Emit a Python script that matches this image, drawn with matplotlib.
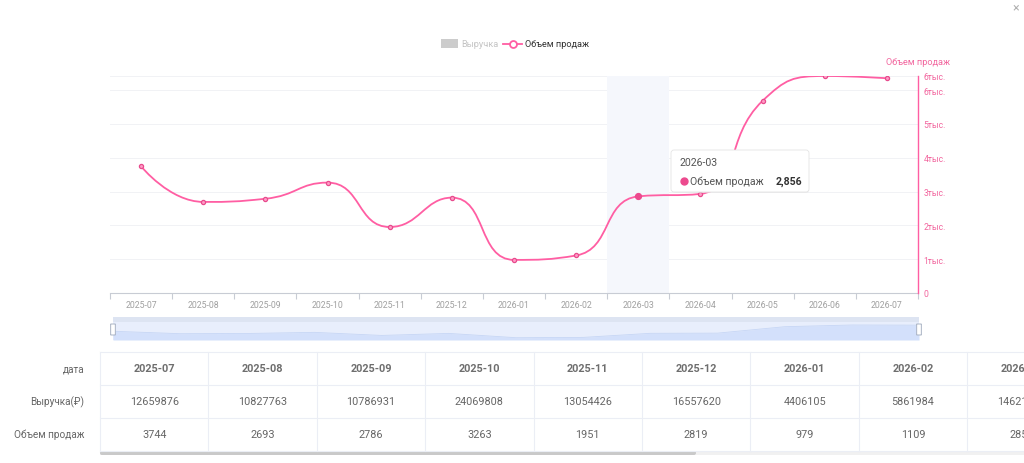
import matplotlib
matplotlib.use('Agg')
import matplotlib.pyplot as plt
from matplotlib.path import Path
from matplotlib.patches import PathPatch, Rectangle, FancyBboxPatch
import numpy as np

plt.rcParams['font.family'] = ['Roboto', 'DejaVu Sans']

# data
months = ['2025-07', '2025-08', '2025-09', '2025-10', '2025-11', '2025-12', '2026-01',
          '2026-02', '2026-03', '2026-04', '2026-05', '2026-06', '2026-07']
volume = [3744, 2693, 2786, 3263, 1951, 2819, 979, 1109, 2856, 2931, 5682, 6415, 6347]
revenue = [12659876, 10827763, 10786931, 24069808, 13054426, 16557620, 4406105, 5861984, 14621530]
y_ticks = [0, 1000, 2000, 3000, 4000, 5000, 6000]
hover_idx = 8

PINK = '#ff5ea3'
PINK_TXT = '#f2679f'
GRAY_TXT = '#a0a0a0'
TBL_TXT = '#666666'
W, H = 1024, 464


def px_rect(x0, y0, x1, y1):
    return [x0 / W, 1 - y1 / H, (x1 - x0) / W, (y1 - y0) / H]


def smooth_path(xs, ys, smooth=0.5):
    # echarts style bezier smoothing with clamped control points
    verts = [(xs[0], ys[0])]
    codes = [Path.MOVETO]
    cp0 = (xs[0], ys[0])
    n = len(xs)
    for i in range(1, n):
        x, y = xs[i], ys[i]
        px, py = xs[i - 1], ys[i - 1]
        if i == n - 1:
            cp1 = (x, y)
            nxt = (x, y)
        else:
            nx, ny = xs[i + 1], ys[i + 1]
            vx, vy = nx - px, ny - py
            lp = np.hypot(x - px, y - py)
            ln = np.hypot(nx - x, ny - y)
            r = ln / (ln + lp)
            ncx = x + vx * smooth * r
            ncy = y + vy * smooth * r
            ncx = max(min(ncx, max(nx, x)), min(nx, x))
            ncy = max(min(ncy, max(ny, y)), min(ny, y))
            vx, vy = ncx - x, ncy - y
            c1x = x - vx * lp / ln
            c1y = y - vy * lp / ln
            c1x = max(min(c1x, max(px, x)), min(px, x))
            c1y = max(min(c1y, max(py, y)), min(py, y))
            vx, vy = x - c1x, y - c1y
            nxt = (x + vx * ln / lp, y + vy * ln / lp)
            cp1 = (c1x, c1y)
        verts += [cp0, cp1, (x, y)]
        codes += [Path.CURVE4] * 3
        cp0 = nxt
    return verts, codes


fig = plt.figure(figsize=(10.24, 4.64), dpi=100)
fig.patch.set_facecolor('white')

# ---- main line chart
ax = fig.add_axes(px_rect(110, 77, 918, 294))
n = len(months)
ymax = max(volume)
ax.set_xlim(-0.5, n - 0.5)
ax.set_ylim(0, ymax)
for s in ['top', 'left', 'right']:
    ax.spines[s].set_visible(False)
ax.spines['bottom'].set_color('#c8ccd4')
ax.set_xticks(np.arange(n + 1) - 0.5, minor=False)
ax.set_xticklabels([])
ax.tick_params(axis='x', length=4, color='#c8ccd4', width=0.8)
ax.set_yticks([])
for i, m in enumerate(months):
    ax.text(i, -0.03, m, transform=ax.get_xaxis_transform(), ha='center', va='top',
            fontsize=6.3, color=GRAY_TXT)
for t in y_ticks[1:] + [ymax]:
    ax.axhline(t, color='#f1f2f5', lw=0.7, zorder=0)

# hover shadow band
ax.axvspan(hover_idx - 0.5, hover_idx + 0.5, color='#f5f7fc', zorder=0, lw=0)

# right y axis
ax2 = ax.twinx()
ax2.set_ylim(0, ymax)
for s in ['top', 'left', 'bottom']:
    ax2.spines[s].set_visible(False)
ax2.spines['right'].set_color(PINK)
ax2.spines['right'].set_linewidth(1.0)
ax2.set_yticks(y_ticks + [ymax])
ax2.set_yticklabels(['0' if t == 0 else '%dтыс.' % int(t / 1000) for t in y_ticks + [ymax]])
ax2.tick_params(axis='y', length=0, pad=4, labelsize=6.2, labelcolor=PINK_TXT)
ax2.text(1.0, ymax + 420, 'Объем продаж', transform=ax2.get_yaxis_transform(),
         ha='center', va='center', fontsize=6.6, color=PINK_TXT)
ax2.set_yticks([], minor=True)

# smooth line in pixel-like space
sx = 62.15
sy = 217.0 / ymax
xs = [i * sx for i in range(n)]
ys = [v * sy for v in volume]
verts, codes = smooth_path(xs, ys)
verts = [(a / sx, b / sy) for a, b in verts]
ax.add_patch(PathPatch(Path(verts, codes), fill=False, edgecolor=PINK, lw=1.3, zorder=3))
ax.plot(range(n), volume, 'o', ms=3.0, mfc='#ff9cc6', mec='#e84b8d', mew=0.9, zorder=4)
ax.plot([hover_idx], [volume[hover_idx]], 'o', ms=4.2, mfc='#ec4a8e', mec='#ec4a8e', zorder=5)

# ---- datazoom slider
sl = fig.add_axes(px_rect(113, 318, 919, 341))
sl.set_xlim(0, n - 1)
sl.set_ylim(0, 23)
sl.axis('off')
sl.add_patch(Rectangle((0, 0), n - 1, 23, color='#e8eefc', lw=0))
sl.add_patch(Rectangle((0, 18), n - 1, 5, color='#dde4f2', lw=0))
shadow = [v / ymax * 15 for v in volume]
sl.fill_between(range(n), 0, shadow, color='#d3e0fb', lw=0)
sl.plot(range(n), shadow, color='#c6d6f5', lw=0.6)
for hx in [0, n - 1]:
    sl.add_patch(FancyBboxPatch((hx - 0.035, 5), 0.07, 11, boxstyle='round,pad=0,rounding_size=0.03',
                                fc='white', ec='#a9b3c4', lw=0.7, clip_on=False, zorder=5))

# ---- overlay for legend, tooltip and table
ov = fig.add_axes([0, 0, 1, 1])
ov.set_xlim(0, W)
ov.set_ylim(H, 0)
ov.axis('off')
ov.patch.set_alpha(0)

# close icon
ov.text(1016, 8, '×', ha='center', va='center', fontsize=9, color='#b0b0b0')

# legend
ov.add_patch(Rectangle((441, 40), 17, 9, fc='#cccccc', lw=0))
ov.text(461, 44.5, 'Выручка', ha='left', va='center', fontsize=6.6, color='#c4c4c4')
ov.plot([503, 522], [44.5, 44.5], color=PINK, lw=1.3)
ov.plot([512.5], [44.5], 'o', ms=5, mfc='white', mec=PINK, mew=1.3)
ov.text(525, 44.5, 'Объем продаж', ha='left', va='center', fontsize=6.6, color='#333333')

# tooltip
ov.add_patch(FancyBboxPatch((673, 153), 136, 41, boxstyle='round,pad=0,rounding_size=3',
                            fc='#e8e8e8', ec='none', alpha=0.5, zorder=9))
ov.add_patch(FancyBboxPatch((671, 151), 138, 42, boxstyle='round,pad=0,rounding_size=3',
                            fc='white', ec='#e4e4e4', lw=0.6, zorder=10))
ov.text(680, 163.5, months[hover_idx], ha='left', va='center', fontsize=7.6, color='#555555', zorder=11)
ov.plot([683.5], [182], 'o', ms=5, color='#ec4a8e', zorder=11)
ov.text(690, 182, 'Объем продаж', ha='left', va='center', fontsize=7.6, color='#555555', zorder=11)
ov.text(802, 182, '{:,}'.format(volume[hover_idx]), ha='right', va='center', fontsize=7.6,
        fontweight='bold', color='#333333', zorder=11)

# table
col_w = 108.4
x0 = 100
row_y = [353, 385.5, 418.5, 451.5]
line_c = '#ebeef5'
ncol = len(revenue)
for y in row_y:
    ov.plot([x0, W], [y, y], color=line_c, lw=0.8, clip_on=True)
for c in range(ncol + 1):
    xx = x0 + c * col_w
    ov.plot([xx, xx], [row_y[0], row_y[-1]], color=line_c, lw=0.8)
row_labels = ['дата', 'Выручка(₽)', 'Объем продаж']
for r, lab in enumerate(row_labels):
    ov.text(84, (row_y[r] + row_y[r + 1]) / 2, lab, ha='right', va='center', fontsize=7.2, color=TBL_TXT)
for c in range(ncol):
    cx = x0 + (c + 0.5) * col_w
    ov.text(cx, (row_y[0] + row_y[1]) / 2, months[c], ha='center', va='center', fontsize=7.8,
            fontweight='bold', color='#6e6e6e', clip_on=True)
    ov.text(cx, (row_y[1] + row_y[2]) / 2, str(revenue[c]), ha='center', va='center', fontsize=7.8,
            color=TBL_TXT, clip_on=True)
    ov.text(cx, (row_y[2] + row_y[3]) / 2, str(volume[c]), ha='center', va='center', fontsize=7.8,
            color=TBL_TXT, clip_on=True)

# horizontal scrollbar under table
ov.add_patch(Rectangle((x0, 452), W - x0, 4, fc='#f1f1f1', lw=0))
ov.add_patch(FancyBboxPatch((x0, 452), 596, 4, boxstyle='round,pad=0,rounding_size=2',
                            fc='#c9c9c9', lw=0))

fig.savefig('out.png', dpi=100)
